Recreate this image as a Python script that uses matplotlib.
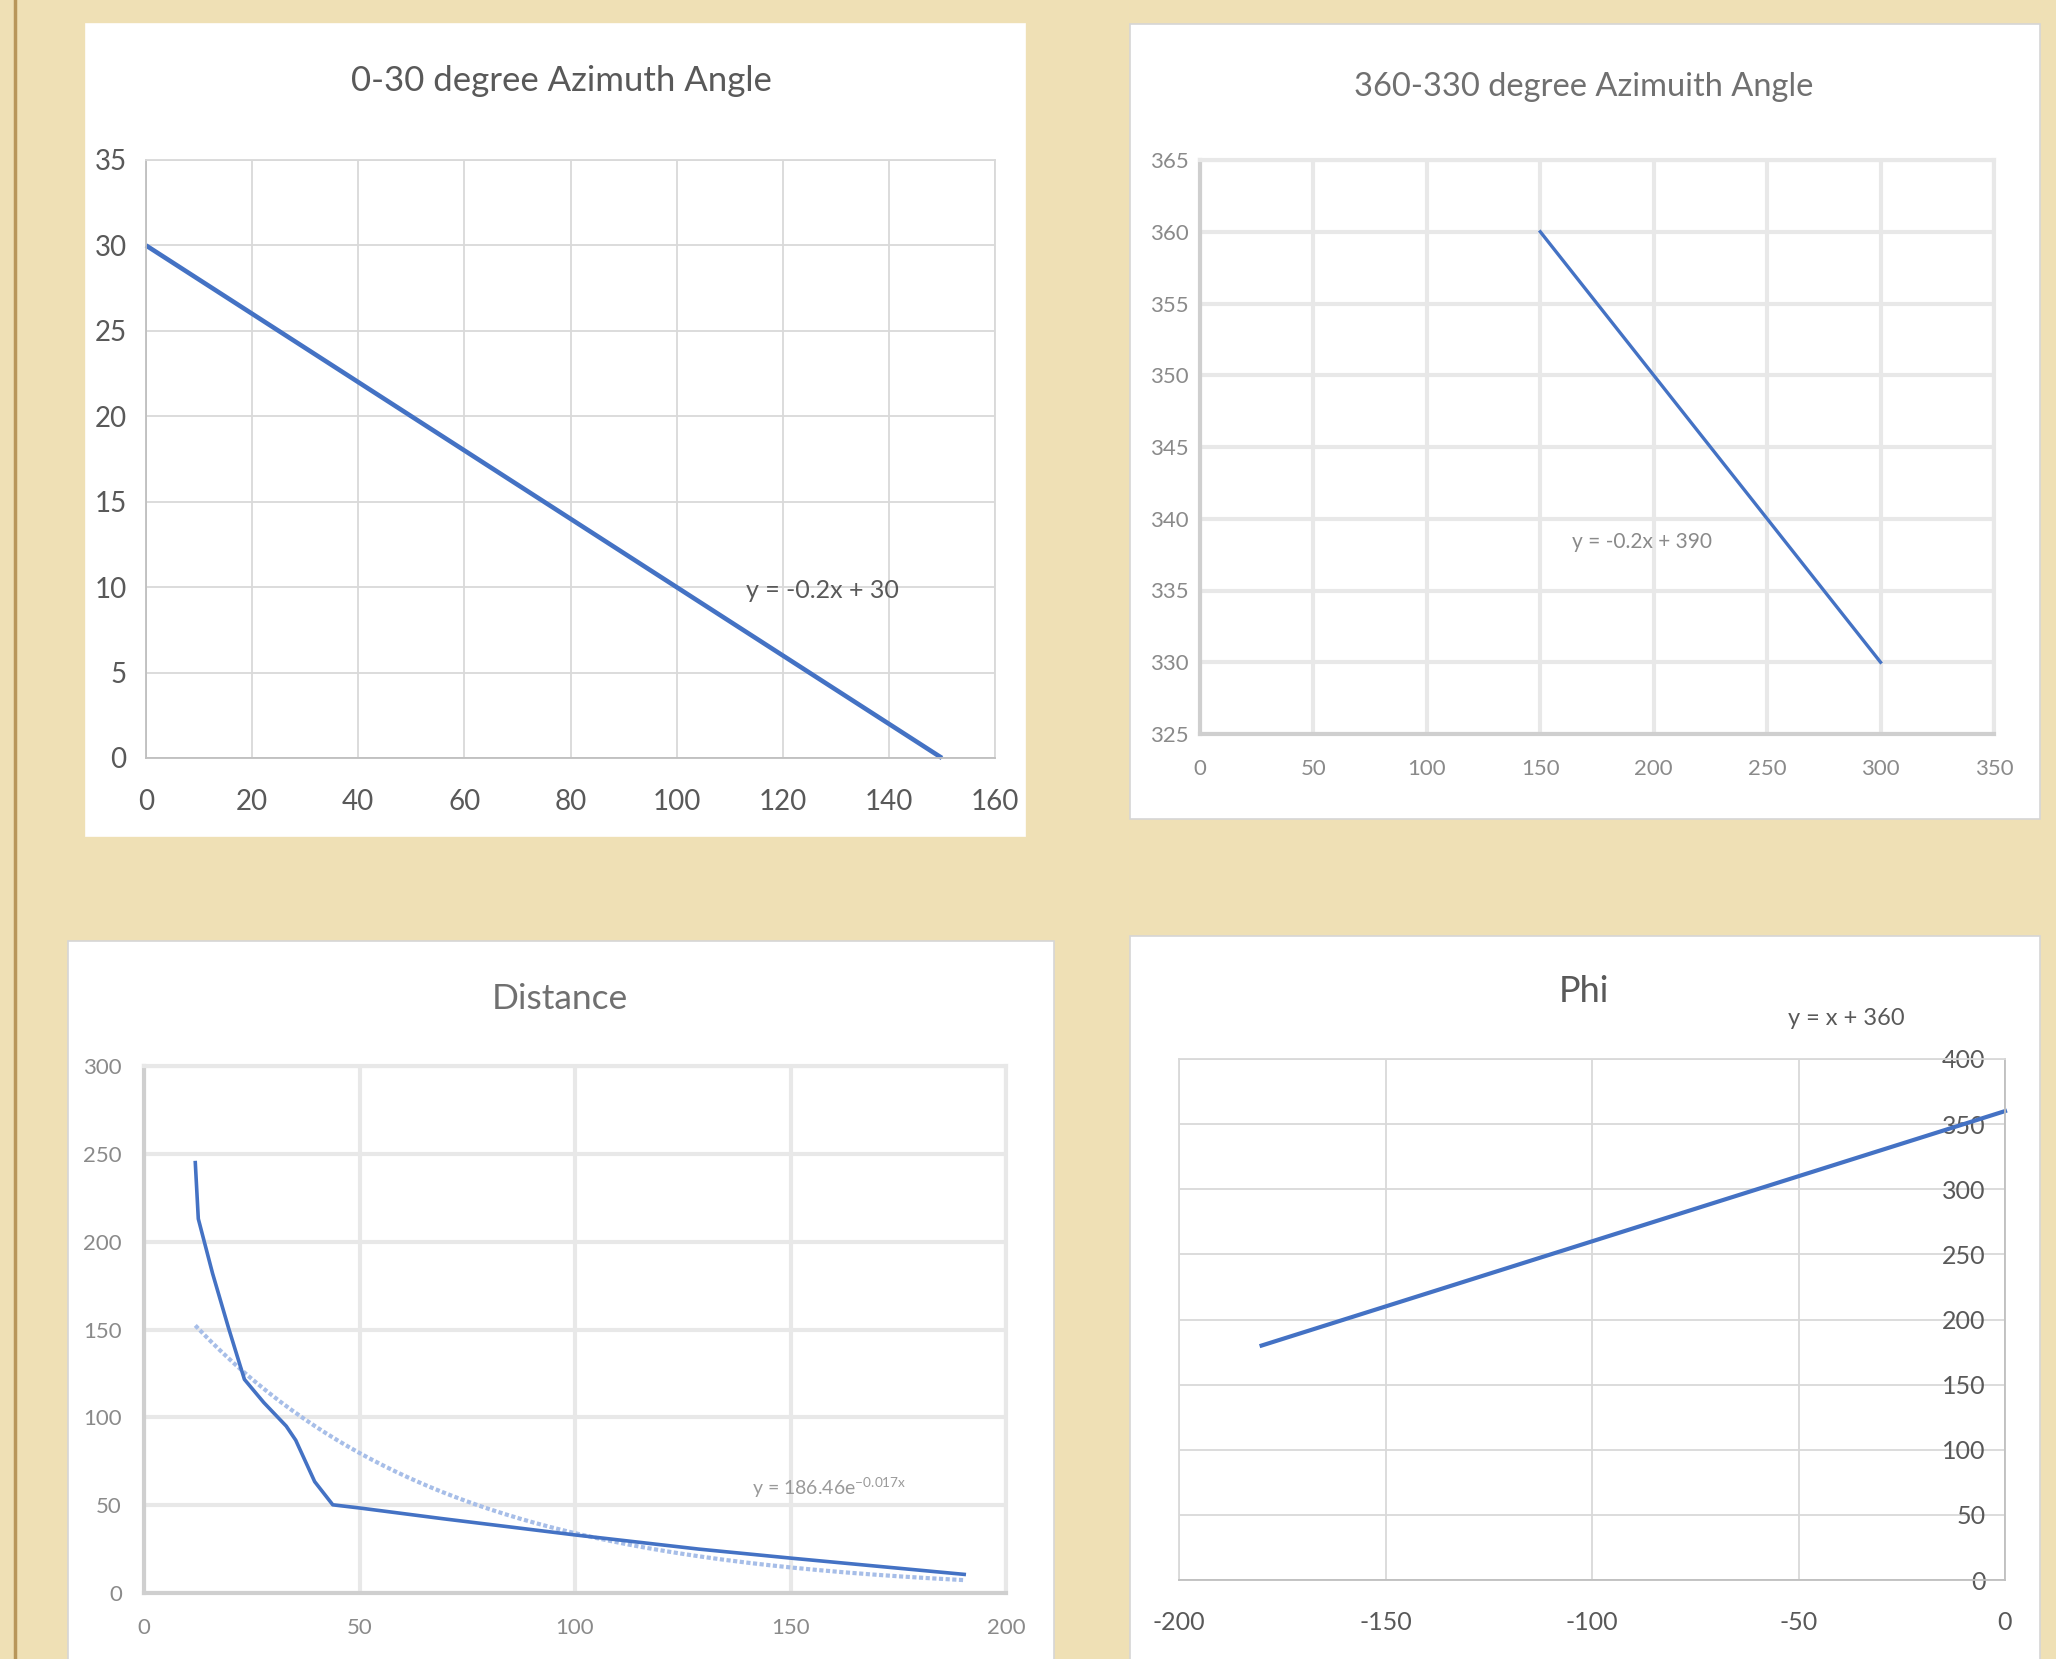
import numpy as np
import matplotlib
matplotlib.use("Agg")
import matplotlib.pyplot as plt
from matplotlib.patches import Rectangle
from matplotlib.lines import Line2D

# ---------------- data ----------------
az1_x = [0, 150]
az1_y = [30, 0]
az1_label = "y = -0.2x + 30"

az2_x = [150, 300]
az2_y = [360, 330]
az2_label = "y = -0.2x + 390"

dist_x = [11.9, 12.6, 15.9, 19.6, 22.3, 23.3, 27.8, 33.0, 35.2, 39.6, 43.8,
          50.0, 69.3, 100.2, 128.7, 150.3, 190.3]
dist_y = [245, 213, 182, 151, 129.5, 121.6, 108.4, 95, 87, 63.4, 50.2,
          48.4, 42.3, 33, 25, 19.8, 10.6]
trend_a = 186.46
trend_b = -0.017
dist_label = "y = 186.46e$^{-0.017x}$"

phi_x = [-180, 0]
phi_y = [180, 360]
phi_label = "y = x + 360"

# ---------------- layout ----------------
W, H = 2056, 1659
BG = "#EFE0B5"
BLUE = "#4472C4"
LIGHTBLUE = "#A7BEE8"
GRID = "#D9D9D9"
TXT = "#595959"
FONT = ["Lato", "Roboto", "DejaVu Sans"]
plt.rcParams["font.family"] = FONT
plt.rcParams["axes.unicode_minus"] = False
plt.rcParams["mathtext.fontset"] = "custom"
plt.rcParams["mathtext.rm"] = "Lato"
plt.rcParams["mathtext.it"] = "Lato"

fig = plt.figure(figsize=(W / 100, H / 100), dpi=100)
fig.patch.set_facecolor(BG)
fig.add_artist(Line2D([15 / W, 15 / W], [0, 1], color="#B8965A", lw=2.5,
                      transform=fig.transFigure))


def panel(x0, y0, x1, y1, ec="#D6D6D6"):
    fig.add_artist(Rectangle((x0 / W, 1 - y1 / H), (x1 - x0) / W, (y1 - y0) / H,
                             facecolor="white", edgecolor=ec, lw=1.2,
                             transform=fig.transFigure, zorder=0))


def add_ax(x0, y0, x1, y1):
    ax = fig.add_axes([x0 / W, 1 - y1 / H, (x1 - x0) / W, (y1 - y0) / H])
    ax.set_facecolor("white")
    return ax


def style(ax, gridc=GRID, glw=1.3, axc="#BFBFBF", tsize=20, tcol=TXT):
    ax.grid(True, color=gridc, lw=glw)
    ax.set_axisbelow(True)
    for s in ax.spines.values():
        s.set_color(gridc)
        s.set_linewidth(glw)
    ax.spines["bottom"].set_color(axc)
    ax.spines["left"].set_color(axc)
    ax.tick_params(length=0, labelsize=tsize, labelcolor=tcol)


# Panel 1
panel(86, 24, 1025, 836, ec="white")
ax1 = add_ax(146, 160, 995, 758)
ax1.set_xlim(0, 160)
ax1.set_ylim(0, 35)
ax1.set_xticks(range(0, 161, 20))
ax1.set_yticks(range(0, 36, 5))
style(ax1, tsize=20)
ax1.tick_params(axis="y", pad=14)
ax1.tick_params(axis="x", pad=22)
ax1.plot(az1_x, az1_y, color=BLUE, lw=3.3, solid_capstyle="butt", clip_on=False)
ax1.text(127.5, 9.8, az1_label, fontsize=18, color=TXT, ha="center", va="center")
fig.text(561 / W, 1 - 81 / H, "0-30 degree Azimuth Angle", fontsize=25,
         color=TXT, ha="center", va="center")

# Panel 2
panel(1130, 24, 2040, 819)
ax2 = add_ax(1200, 160, 1994, 734)
ax2.set_xlim(0, 350)
ax2.set_ylim(325, 365)
ax2.set_xticks(range(0, 351, 50))
ax2.set_yticks(range(325, 366, 5))
style(ax2, gridc="#E8E8E8", glw=3, axc="#CFCFCF", tsize=16, tcol="#8A8A8A")
ax2.tick_params(axis="y", pad=8)
ax2.tick_params(axis="x", pad=18)
ax2.plot(az2_x, az2_y, color=BLUE, lw=2.4)
ax2.text(194.7, 338.4, az2_label, fontsize=15, color="#8A8A8A", ha="center",
         va="center")
fig.text(1584 / W, 1 - 87 / H, "360-330 degree Azimuith Angle", fontsize=23.5,
         color="#707070", ha="center", va="center")

# Panel 3
panel(68, 941, 1054, 1670)
ax3 = add_ax(144, 1066, 1006, 1593)
ax3.set_xlim(0, 200)
ax3.set_ylim(0, 300)
ax3.set_xticks(range(0, 201, 50))
ax3.set_yticks(range(0, 301, 50))
style(ax3, gridc="#E8E8E8", glw=3, axc="#CFCFCF", tsize=16, tcol="#8A8A8A")
ax3.tick_params(axis="y", pad=16)
ax3.tick_params(axis="x", pad=18)
tx = np.linspace(min(dist_x), max(dist_x), 200)
ax3.plot(tx, trend_a * np.exp(trend_b * tx), color=LIGHTBLUE, lw=3,
         ls=(0, (1, 0.6)))
ax3.plot(dist_x, dist_y, color=BLUE, lw=2.6)
ax3.text(159, 60, dist_label, fontsize=14, color="#9A9A9A", ha="center",
         va="center")
fig.text(560 / W, 1 - 999 / H, "Distance", fontsize=25.5, color="#707070",
         ha="center", va="center")

# Panel 4
panel(1130, 936, 2040, 1670)
ax4 = add_ax(1179, 1059, 2005, 1580)
ax4.set_xlim(-200, 0)
ax4.set_ylim(0, 400)
ax4.set_xticks(range(-200, 1, 50))
ax4.set_yticks(range(0, 401, 50))
style(ax4, tsize=18)
ax4.spines["left"].set_color(GRID)
ax4.spines["right"].set_color("#BFBFBF")
ax4.yaxis.tick_right()
ax4.tick_params(axis="y", pad=-14, length=0)
for lab in ax4.get_yticklabels():
    lab.set_horizontalalignment("right")
ax4.tick_params(axis="x", pad=22)
ax4.plot(phi_x, phi_y, color=BLUE, lw=3, clip_on=False)
ax4.text(-38.4, 431, phi_label, fontsize=17, color=TXT, ha="center",
         va="center", clip_on=False)
fig.text(1584 / W, 1 - 992 / H, "Phi", fontsize=26, color=TXT, ha="center",
         va="center")

fig.savefig("out.png", dpi=100, facecolor=BG)
